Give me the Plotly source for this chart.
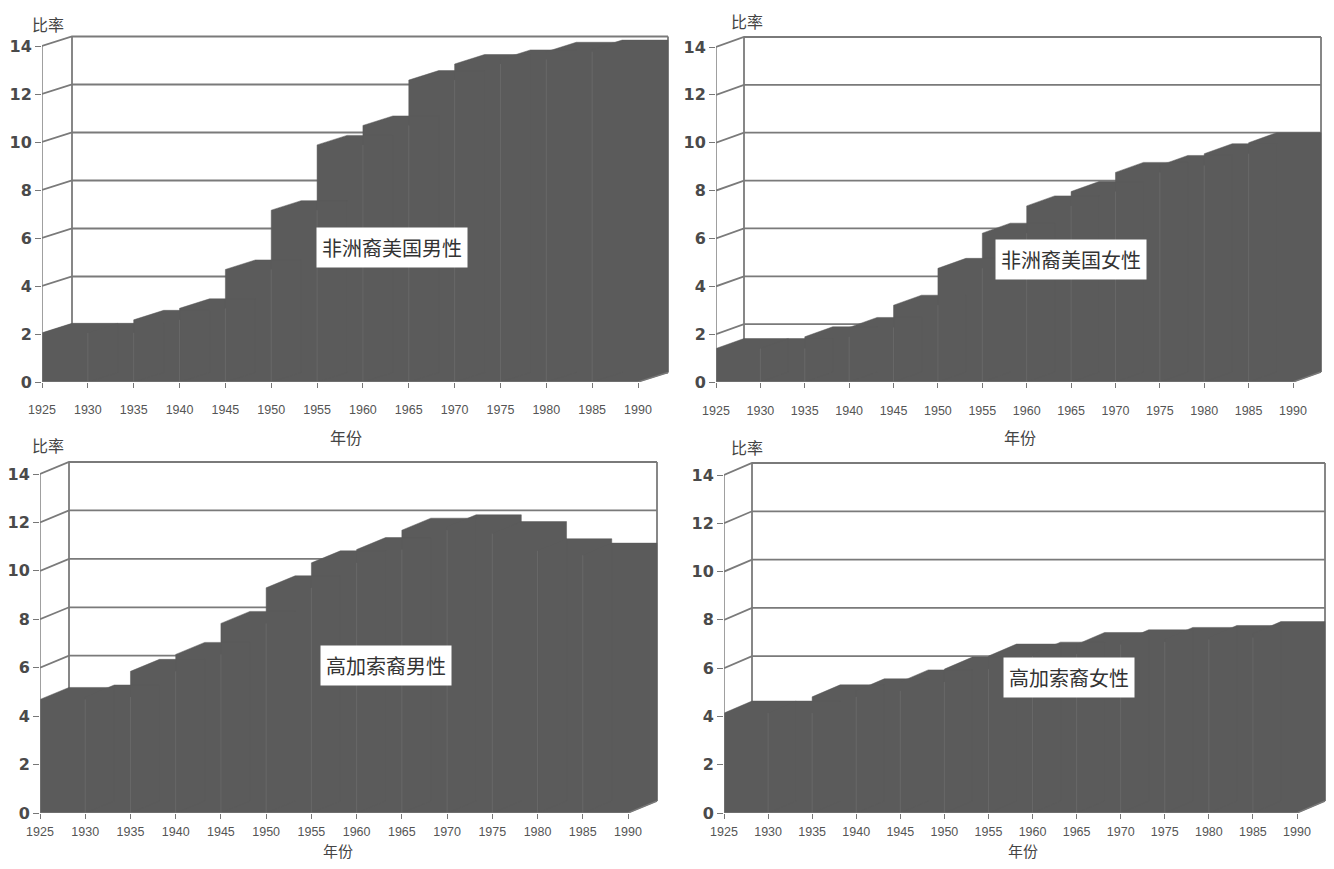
import plotly.graph_objects as go

# ---------------- data ----------------
YEARS = [1925, 1930, 1935, 1940, 1945, 1950, 1955, 1960, 1965, 1970, 1975, 1980, 1985, 1990]
X_TICK_LABELS = [str(y) for y in YEARS]
Y_TICKS = [0, 2, 4, 6, 8, 10, 12, 14]
Y_TICK_LABELS = [str(v) for v in Y_TICKS]

AFRICAN_MALE = [2.05, 2.05, 2.59, 3.07, 4.69, 7.16, 9.88, 10.69, 12.58, 13.25, 13.44, 13.76, 13.85]
AFRICAN_FEMALE = [1.40, 1.40, 1.89, 2.28, 3.21, 4.75, 6.22, 7.36, 7.96, 8.76, 9.05, 9.54, 10.00]
CAUCASIAN_MALE = [4.69, 4.79, 5.85, 6.55, 7.83, 9.30, 10.33, 10.88, 11.68, 11.82, 11.54, 10.83, 10.65]
CAUCASIAN_FEMALE = [4.14, 4.14, 4.81, 5.06, 5.43, 5.96, 6.50, 6.58, 6.98, 7.09, 7.19, 7.27, 7.43]

SERIES = [AFRICAN_MALE, AFRICAN_FEMALE, CAUCASIAN_MALE, CAUCASIAN_FEMALE]
SERIES_NAMES = ["非洲裔美国男性", "非洲裔美国女性", "高加索裔男性", "高加索裔女性"]
LABEL_POS = [(1963.2, 5.6), (1965.0, 5.14), (1963.25, 6.11), (1964.1, 5.63)]
Y_TITLE = "比率"
X_TITLE = "年份"

# ---------------- layout / style ----------------
OFF = 8                      # page body margin of the html page
W, H = 1334 - 2 * OFF, 869 - 2 * OFF
# pixel frame per panel (window pixels): x of 1925, x of 1990, y of 0, y of 14,
# depth x px, depth y px, tick label standoff
FRAMES = [
    (42, 638, 382, 46, 30, 9.5, 11),
    (716, 1293, 382, 47, 28, 10, 12),
    (40, 628, 813, 474, 29, 12, 2),
    (724, 1297, 813, 475, 28, 12, 2),
]
YTITLE_PX = [(48, 24), (747, 21), (48, 445), (747, 447)]
XTITLE_PX = [(346, 437), (1020, 437), (338, 850), (1023, 850)]
XTITLE_SIZE = [16, 16, 15, 15]

DARK = "#5b5b5b"
GRID = "#7a7a7a"
SEP = "#686868"
CJK = "Noto Sans CJK SC"


def fx(p):
    return min(1.0, max(0.0, (p - OFF) / W))


def fy(p):
    return min(1.0, max(0.0, 1 - (p - OFF) / H))


fig = go.Figure()
layout_axes = {}
annotations = []

for k, (vals, frame) in enumerate(zip(SERIES, FRAMES)):
    x0px, x1px, y0px, y14px, dxp, dyp, standoff = frame
    n = k + 1
    xa = "x" if n == 1 else f"x{n}"
    ya = "y" if n == 1 else f"y{n}"
    sx = (x1px - x0px) / (YEARS[-1] - YEARS[0])
    sy = (y0px - y14px) / (Y_TICKS[-1] - Y_TICKS[0])
    dx = dxp / sx
    dy = dyp / sy
    xmin, xmax = YEARS[0], YEARS[-1]
    ymax = Y_TICKS[-1]

    # back wall + side wall gridlines
    gx, gy = [], []
    for g in Y_TICKS:
        gx += [xmin, xmin + dx, xmax + dx, None]
        gy += [g, g + dy, g + dy, None]
    gx += [xmin + dx, xmin + dx, None, xmax + dx, xmax + dx, None]
    gy += [dy, ymax + dy, None, dy, ymax + dy, None]
    fig.add_trace(go.Scatter(x=gx, y=gy, mode="lines", xaxis=xa, yaxis=ya,
                             line=dict(color=GRID, width=1.8), hoverinfo="skip"))

    # 3D columns: front + top + right face as one polygon each
    px, py = [], []
    for j, v in enumerate(vals):
        a, b = YEARS[j], YEARS[j + 1]
        px += [a, a, a + dx, b + dx, b + dx, b, a, None]
        py += [0, v, v + dy, v + dy, dy, 0, 0, None]
    fig.add_trace(go.Scatter(x=px, y=py, mode="lines", fill="toself", fillcolor=DARK,
                             line=dict(color=DARK, width=0.5), xaxis=xa, yaxis=ya,
                             hoverinfo="skip"))

    # faint column separators
    sxs, sys_ = [], []
    for j in range(1, len(vals)):
        sxs += [YEARS[j], YEARS[j], None]
        sys_ += [0, min(vals[j - 1], vals[j]), None]
    fig.add_trace(go.Scatter(x=sxs, y=sys_, mode="lines", xaxis=xa, yaxis=ya,
                             line=dict(color=SEP, width=1), hoverinfo="skip"))

    # front axes lines + floor edge
    fig.add_trace(go.Scatter(x=[xmin, xmin, None, xmin, xmax, xmax + dx],
                             y=[ymax, 0, None, 0, 0, dy], mode="lines",
                             xaxis=xa, yaxis=ya, line=dict(color="#777", width=1.4),
                             hoverinfo="skip"))

    right_px = min(x1px + dxp + 4, OFF + W)
    top_px = max(y14px - dyp - 4, OFF)
    dom_x = [fx(x0px), fx(right_px)]
    dom_y = [fy(y0px), fy(top_px)]
    layout_axes["xaxis" if n == 1 else f"xaxis{n}"] = dict(
        domain=dom_x, range=[xmin, xmax + (right_px - x1px) / sx], anchor=ya,
        automargin=False,
        tickmode="array", tickvals=YEARS, ticktext=X_TICK_LABELS,
        ticks="outside", ticklen=5, tickwidth=1.2, tickcolor="#777",
        ticklabelstandoff=standoff,
        tickfont=dict(family="Liberation Sans", size=12.5, color="#555"),
        showgrid=False, zeroline=False, showline=False, fixedrange=True)
    layout_axes["yaxis" if n == 1 else f"yaxis{n}"] = dict(
        domain=dom_y, range=[0, ymax + (y14px - top_px) / sy], anchor=xa,
        automargin=False,
        tickmode="array", tickvals=Y_TICKS, ticktext=Y_TICK_LABELS,
        ticks="outside", ticklen=6, tickwidth=1.2, tickcolor="#777",
        ticklabelstandoff=0,
        tickfont=dict(family="DejaVu Sans", size=16, color="#4a4a4a", weight="bold"),
        showgrid=False, zeroline=False, showline=False, fixedrange=True)

    lx, ly = LABEL_POS[k]
    annotations.append(dict(x=lx, y=ly, xref=xa, yref=ya, text=SERIES_NAMES[k],
                            xanchor="center", yanchor="middle",
                            showarrow=False, bgcolor="white", borderpad=5,
                            font=dict(family=CJK, size=20, color="#333")))
    tx, ty = YTITLE_PX[k]
    annotations.append(dict(x=fx(tx), y=fy(ty), xref="paper", yref="paper",
                            xanchor="center", yanchor="middle",
                            text=Y_TITLE, showarrow=False,
                            font=dict(family=CJK, size=16, color="#444")))
    tx, ty = XTITLE_PX[k]
    annotations.append(dict(x=fx(tx), y=fy(ty), xref="paper", yref="paper",
                            xanchor="center", yanchor="middle",
                            text=X_TITLE, showarrow=False,
                            font=dict(family=CJK, size=XTITLE_SIZE[k], color="#444")))

fig.update_layout(width=W, height=H, margin=dict(l=0, r=0, t=0, b=0, autoexpand=False),
                  paper_bgcolor="white", plot_bgcolor="white", showlegend=False,
                  annotations=annotations, **layout_axes)

fig.write_html("out.html")
